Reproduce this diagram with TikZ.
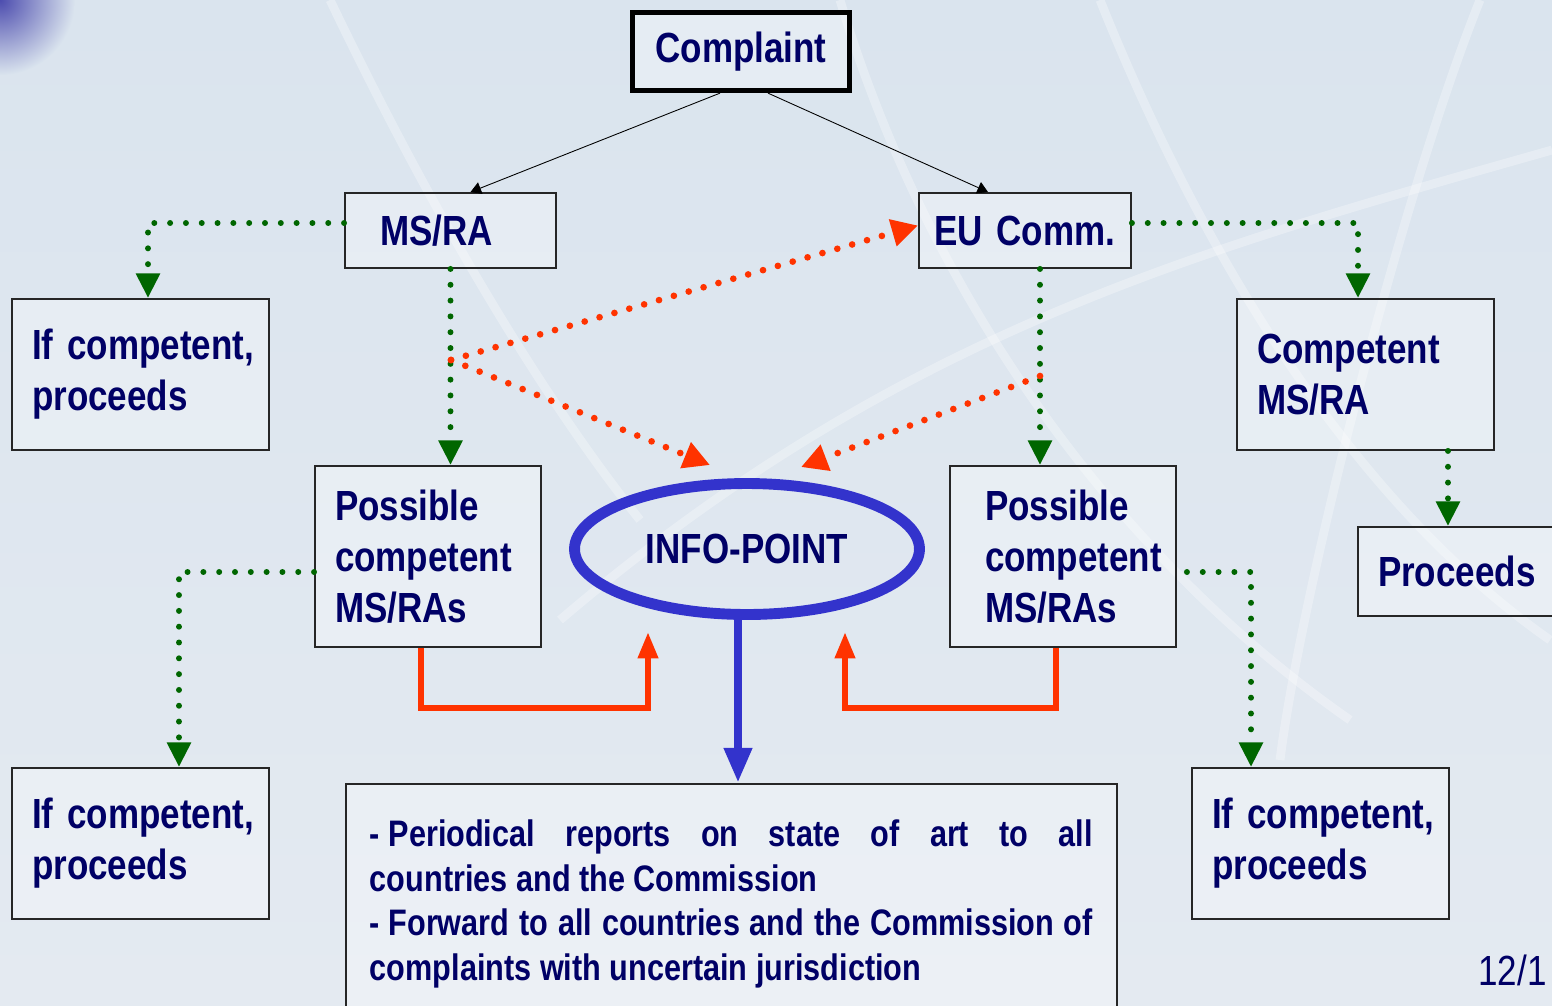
\documentclass[tikz,border=0pt]{standalone}
\usepackage{fontspec}
\setmainfont{Liberation Sans}[FakeStretch=0.83]
\usepackage{xcolor}
\usetikzlibrary{positioning,arrows.meta,shapes.geometric}
\definecolor{navy}{HTML}{000066}
\definecolor{dotgreen}{HTML}{006600}
\definecolor{fwdred}{HTML}{FF3300}
\definecolor{infoblue}{HTML}{3333CC}
\definecolor{bgtop}{HTML}{DAE4EE}
\definecolor{bgmid}{HTML}{EEF2F7}
\definecolor{bgbot}{HTML}{E4EAF1}
\begin{document}
\begin{tikzpicture}[x=0.02cm, y=-0.02cm,
  box/.style={draw=black!85, line width=1.1pt, fill=white, fill opacity=.3, text opacity=1,
              align=left, text=navy, font=\fontsize{24}{29}\selectfont\bfseries, inner ysep=0pt},
  greendots/.style={dotgreen, line width=3.4pt, line cap=round, dash pattern=on 0pt off 9pt,
                    -{Triangle[width=13pt,length=14pt]}},
  reddots/.style={fwdred, line width=3.8pt, line cap=round, dash pattern=on 0pt off 8.8pt,
                  -{Triangle[width=15pt,length=15pt]}},
  feedback/.style={fwdred, line width=3.4pt, line join=miter, -{Triangle[width=11pt,length=15pt]}},
  thinarr/.style={black, line width=.5pt, -{Triangle[width=7pt,length=6pt]}}]
% background
\useasboundingbox (0,0) rectangle (1552,1005);
\shade[top color=bgtop, middle color=bgmid, bottom color=bgbot] (0,0) rectangle (1552,1005);
\shade[inner color=blue!55!black!70, outer color=bgtop] (0,0) circle (1.5cm);
\begin{scope}[white, opacity=.3, line width=5pt]
  \draw (330,0) .. controls (450,250) and (560,420) .. (640,520);
  \draw (840,0) .. controls (930,300) and (1120,560) .. (1350,720);
  \draw (1100,0) .. controls (1200,250) and (1350,500) .. (1550,640);
  \draw (560,620) .. controls (900,330) and (1200,250) .. (1552,150);
  \draw (1480,0) .. controls (1400,200) and (1300,600) .. (1280,760);
\end{scope}
% boxes
\node[box, draw=black, line width=3pt, align=center, minimum width=4.34cm, minimum height=1.56cm] (cmp) at (741,51.5) {Complaint};
\node[box, text width=2.82cm, inner xsep=.7cm, minimum height=1.5cm] (msra) at (450.5,230.5) {MS/RA};
\node[box, text width=3.64cm, inner xsep=.3cm, minimum height=1.5cm] (euc) at (1025,230.5) {EU Comm.};
\node[box, text width=4.34cm, inner xsep=.4cm, minimum height=3.02cm] (ifc1) at (140.5,374.5) {\mbox{If competent,}\\proceeds};
\node[box, text width=4.34cm, inner xsep=.4cm, minimum height=3.02cm] (cms) at (1365.5,374.5) {Competent\\MS/RA};
\node[box, text width=3.72cm, inner xsep=.4cm, minimum height=3.62cm] (posl) at (428,556.5) {Possible\\competent\\MS/RAs};
\node[box, text width=3.12cm, inner xsep=.7cm, minimum height=3.62cm] (posr) at (1063,556.5) {Possible\\competent\\MS/RAs};
\node[box, text width=3.44cm, inner xsep=.4cm, minimum height=1.78cm] (proc) at (1464,571.5) {Proceeds};
\node[box, text width=4.34cm, inner xsep=.4cm, minimum height=3.02cm] (ifc2) at (140.5,843.5) {\mbox{If competent,}\\proceeds};
\node[box, text width=4.34cm, inner xsep=.4cm, minimum height=3.02cm] (ifc3) at (1320.5,843.5) {\mbox{If competent,}\\proceeds};
\node[box, anchor=north west, align=justify, text width=14.46cm, inner xsep=.48cm, minimum height=4.8cm,
      font=\fontsize{21}{25.5}\selectfont\bfseries] (rep) at (345,783)
  {\mbox{- Periodical} reports on state of art to all\linebreak countries and the Commission\\
   \mbox{- Forward} to all countries and the Commission of\linebreak complaints with uncertain jurisdiction};
\node[ellipse, draw=infoblue, line width=6.2pt, minimum width=6.9cm, minimum height=2.62cm,
      text=navy, font=\fontsize{24}{29}\selectfont\bfseries] (info) at (747,549) {INFO-POINT};
\node[anchor=west, text=navy, font=\fontsize{24}{29}\selectfont, inner sep=0pt] (page) at (1478,970) {12/1};
% complaint split
\draw[thinarr] ([xshift=-.42cm]cmp.south) -- ([xshift=.4cm]msra.north);
\draw[thinarr] ([xshift=.54cm]cmp.south) -- ([xshift=-.74cm]euc.north);
% competence checks
\draw[greendots] ([yshift=.15cm]msra.west) -| ([xshift=.15cm]ifc1.north);
\draw[greendots] (msra.south) -- (msra.south |- posl.north);
\draw[greendots] ([yshift=.15cm]euc.east) -| ([xshift=-.15cm]cms.north);
\draw[greendots] ([xshift=.3cm]euc.south) coordinate (eucs) -- (eucs |- posr.north);
\draw[greendots] ([xshift=1.65cm]cms.south) coordinate (cmss) -- (cmss |- proc.north);
\draw[greendots] ([yshift=-.31cm]posl.west) -| ([xshift=.77cm]ifc2.north);
\draw[greendots] ([xshift=.2cm,yshift=-.31cm]posr.east) -| ([xshift=-1.39cm]ifc3.north);
% forwarding to info point
\coordinate (forkl) at (451,360);
\coordinate (forkr) at (1040,376);
\draw[reddots] (forkl) -- ([yshift=.1cm]euc.west);
\draw[reddots] (forkl) -- ([xshift=-.74cm,yshift=.26cm]info.north);
\draw[reddots] (forkr) -- ([xshift=1.08cm,yshift=.22cm]info.north);
\coordinate (infol) at (648,632);
\coordinate (infor) at (845,632);
\draw[feedback] ([xshift=-.14cm]posl.south) -- ++(0,60) -| (infol);
\draw[feedback] ([xshift=-.14cm]posr.south) -- ++(0,60) -| (infor);
\draw[infoblue, line width=5pt, -{Triangle[width=15pt,length=20pt]}] ([xshift=-.18cm]info.south) coordinate (infos) -- (infos |- rep.north);
\end{tikzpicture}
\end{document}
